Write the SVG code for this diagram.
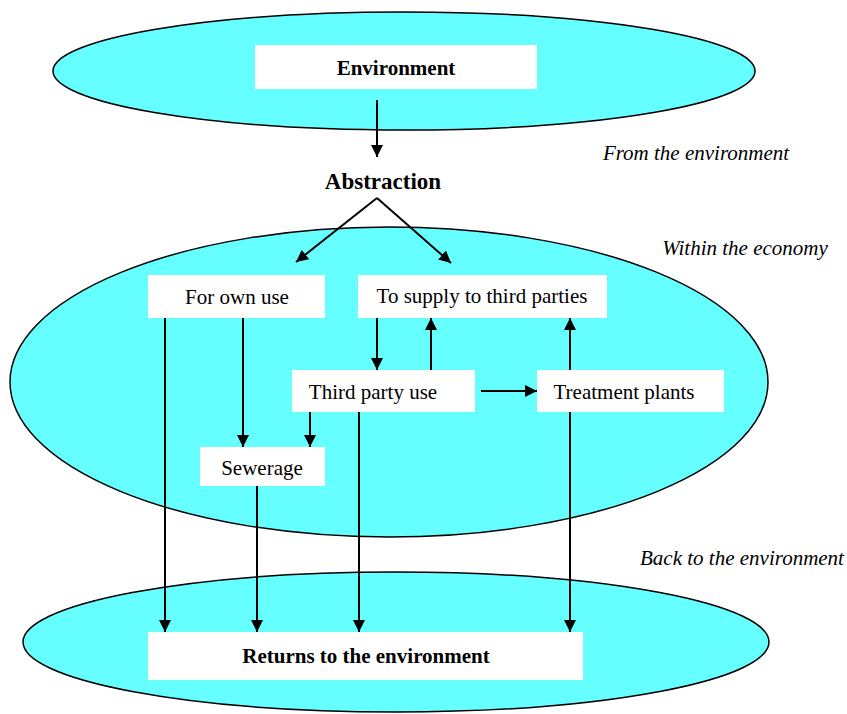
<svg xmlns="http://www.w3.org/2000/svg" width="847" height="714" viewBox="0 0 847 714">
<defs>
<marker id="ah" viewBox="0 0 10 10" refX="10" refY="5" markerWidth="6" markerHeight="6" orient="auto" markerUnits="strokeWidth">
<path d="M0,0 L10,5 L0,10 z" fill="#000"/>
</marker>
<style>
.ell{fill:#66ffff;stroke:#000;stroke-width:1.5}
.box{fill:#fff}
text{font-family:'Liberation Serif','Times New Roman',serif;fill:#000;text-anchor:middle}
.t{font-size:21px}
.b{font-weight:bold;font-size:21px}
.i{font-style:italic;font-size:21px}
.c{stroke:#000;stroke-width:2;fill:none;marker-end:url(#ah)}
</style>
</defs>
<rect width="847" height="714" fill="#fff"/>
<ellipse class="ell" cx="404" cy="71" rx="351" ry="59"/>
<ellipse class="ell" cx="389" cy="382" rx="379" ry="155"/>
<ellipse class="ell" cx="396" cy="642" rx="373" ry="70"/>
<g id="labels">
<text class="i" x="696" y="160">From the environment</text>
<text class="i" x="745" y="255">Within the economy</text>
<text class="i" x="742" y="565">Back to the environment</text>
</g>
<g id="environment"><rect class="box" x="255" y="45" width="282" height="44"/><text class="b" x="396" y="75">Environment</text></g>
<g id="abstraction"><text class="b" x="383" y="189" style="font-size:23px">Abstraction</text></g>
<g id="own"><rect class="box" x="148" y="275" width="177" height="43"/><text class="t" x="237" y="304">For own use</text></g>
<g id="supply"><rect class="box" x="358" y="275" width="249" height="43"/><text class="t" x="482" y="303">To supply to third parties</text></g>
<g id="thirdparty"><rect class="box" x="292" y="370" width="183" height="42"/><text class="t" x="373" y="399">Third party use</text></g>
<g id="treatment"><rect class="box" x="537" y="370" width="187" height="42"/><text class="t" x="624" y="399">Treatment plants</text></g>
<g id="sewerage"><rect class="box" x="200" y="447" width="125" height="39"/><text class="t" x="262" y="475">Sewerage</text></g>
<g id="returns"><rect class="box" x="148" y="632" width="435" height="48"/><text class="b" x="366" y="663">Returns to the environment</text></g>
<g id="connectors">
<line class="c" x1="377" y1="100" x2="377" y2="157"/>
<line class="c" x1="377" y1="198" x2="296" y2="262"/>
<line class="c" x1="377" y1="198" x2="451" y2="263"/>
<line class="c" x1="377" y1="318" x2="377" y2="370"/>
<line class="c" x1="431" y1="370" x2="431" y2="318"/>
<line class="c" x1="570" y1="370" x2="570" y2="318"/>
<line class="c" x1="481" y1="391" x2="537" y2="391"/>
<line class="c" x1="243" y1="318" x2="243" y2="447"/>
<line class="c" x1="310" y1="412" x2="310" y2="447"/>
<line class="c" x1="165" y1="318" x2="165" y2="632"/>
<line class="c" x1="257" y1="486" x2="257" y2="632"/>
<line class="c" x1="359" y1="412" x2="359" y2="632"/>
<line class="c" x1="570" y1="412" x2="570" y2="632"/>
</g>
</svg>
